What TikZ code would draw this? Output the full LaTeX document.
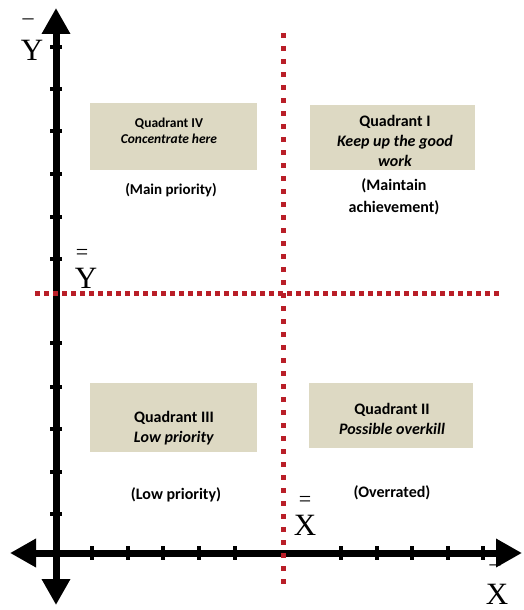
\documentclass[tikz,border=0pt]{standalone}
\usepackage{fontspec}
\setmainfont{Liberation Serif}
\newfontfamily\calib{Carlito}
\usepackage{xcolor}
\usetikzlibrary{arrows.meta}
\definecolor{dotred}{RGB}{185,30,40}
\definecolor{boxtan}{RGB}{221,217,195}
\tikzset{
  axis/.style={line width=7pt,{Triangle[length=26pt,width=27pt]}-{Triangle[length=26pt,width=27pt]}},
  axtick/.style={line width=4pt},
  divider/.style={dotred,line width=5pt,dash pattern=on 5pt off 8pt},
  hdivider/.style={dotred,line width=5pt,dash pattern=on 5pt off 4pt},
  qbox/.style={fill=boxtan,inner sep=0pt},
  qtext/.style={font=\calib\bfseries,align=center,inner sep=0pt},
  axlabel/.style={font=\fontsize{31}{31}\selectfont,inner sep=0pt},
  barmark/.style={font=\fontsize{22}{22}\selectfont,inner sep=0pt}
}
\begin{document}
\begin{tikzpicture}[x=1pt,y=-1pt]
\useasboundingbox (0,0) rectangle (524,610);
\coordinate (Ytop) at (56,8);
\coordinate (Ybot) at (56,605);
\coordinate (Xleft) at (10,553);
\coordinate (Xright) at (522,553);
\coordinate (Vtop) at (283,33);
\coordinate (Vbot) at (283,590);
\coordinate (Hleft) at (35,293);
\coordinate (Hright) at (500,293);
% quadrant boxes
\path[qbox] (90,103) rectangle (257,170);
\path[qbox] (310,105) rectangle (475,170);
\path[qbox] (90,383) rectangle (257,452);
\path[qbox] (309,383) rectangle (473,448);
% axes
\draw[axis] (Ybot) -- (Ytop);
\draw[axis] (Xleft) -- (Xright);
\foreach \t in {47,89,131,174,217,259,343,387,429,472,514}
  \draw[axtick] (50,\t) -- (62,\t);
\foreach \t in {92,128,163,199,235,341,377,412,448,483}
  \draw[axtick] (\t,546) -- (\t,560);
\draw[divider] (Vtop) -- (Vbot);
\draw[hdivider] (Hleft) -- (Hright);
% labels
\node[barmark] (ytopbar) at (28,22) {–};
\node[axlabel] (ytop) at (32,50) {Y};
\node[barmark] (ymidbar) at (82,254) {=};
\node[axlabel] (ymid) at (86,278) {Y};
\node[barmark] (xmidbar) at (305,501) {=};
\node[axlabel] (xmid) at (305,525) {X};
\node[barmark] (xendbar) at (495,568) {–};
\node[axlabel] (xend) at (497,594) {X};
% quadrant texts
\node[qtext,font=\calib\bfseries\fontsize{13.5}{16}\selectfont] (q4) at (169,131) {Quadrant IV\\\textit{Concentrate here}};
\node[qtext,font=\calib\bfseries\fontsize{15}{18}\selectfont] (q4note) at (171,190) {(Main priority)};
\node[qtext,font=\calib\bfseries\fontsize{16}{20}\selectfont] (q1) at (395,141) {Quadrant I\\\textit{Keep up the good}\\\textit{work}};
\node[qtext,font=\calib\bfseries\fontsize{16}{22}\selectfont] (q1note) at (394,197) {(Maintain\\achievement)};
\node[qtext,font=\calib\bfseries\fontsize{16}{20}\selectfont] (q3) at (174,428) {Quadrant III\\\textit{Low priority}};
\node[qtext,font=\calib\bfseries\fontsize{16}{20}\selectfont] (q3note) at (176,495) {(Low priority)};
\node[qtext,font=\calib\bfseries\fontsize{16}{20}\selectfont] (q2) at (392,419) {Quadrant II\\\textit{Possible overkill}};
\node[qtext,font=\calib\bfseries\fontsize{16}{20}\selectfont] (q2note) at (392,493) {(Overrated)};
\end{tikzpicture}
\end{document}
